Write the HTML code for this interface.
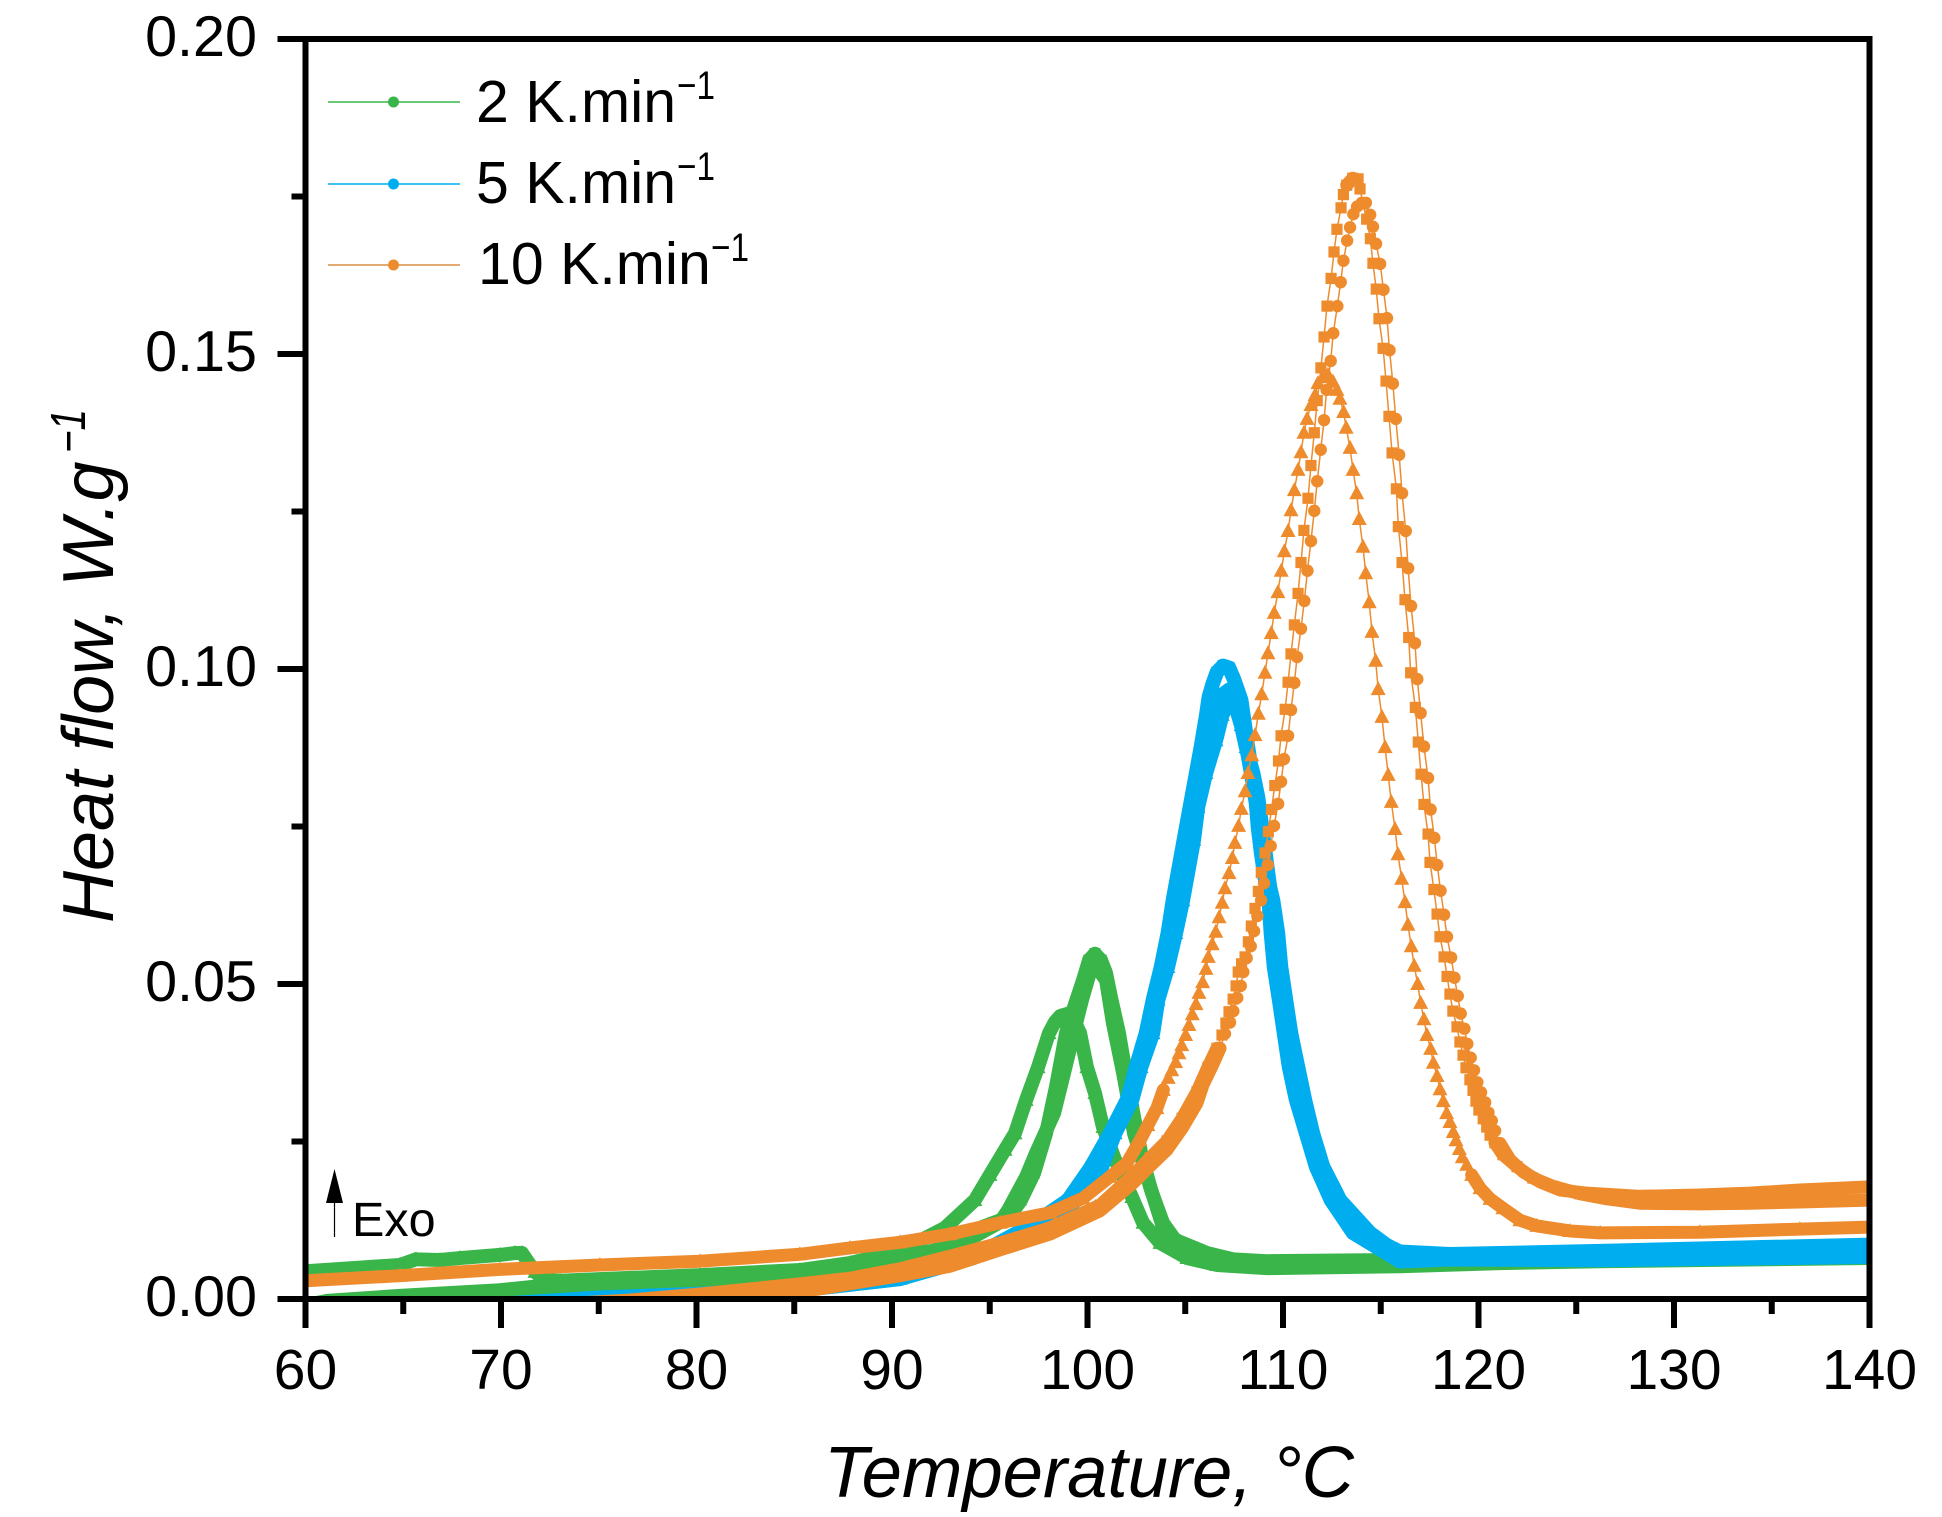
<!DOCTYPE html>
<html lang="en">
<head>
<meta charset="utf-8">
<title>Heat flow vs temperature</title>
<style>
html,body{margin:0;padding:0;background:#fff;}
svg{display:block;}
text{font-family:"Liberation Sans",Arial,sans-serif;fill:#000;}
</style>
</head>
<body>
<svg id="chart" xmlns="http://www.w3.org/2000/svg" width="1942" height="1517" viewBox="0 0 1942 1517">
<rect x="0" y="0" width="1942" height="1517" fill="#fff"/>
<defs><clipPath id="plot-clip"><rect x="305.5" y="39" width="1564" height="1260"/></clipPath></defs>
<g id="series-layer" clip-path="url(#plot-clip)"></g>
<g id="axes-layer"></g>
<g>
<g>
<line x1="328" x2="460" y1="102" y2="102" stroke="#39B54A" stroke-width="1.5"/>
<circle cx="393.5" cy="102" r="5.5" fill="#39B54A"/>
<text x="476" y="122" font-size="59">2 K.min</text>
<text x="677" y="99" font-size="40" textLength="38" lengthAdjust="spacingAndGlyphs">−1</text>
</g>
<g>
<line x1="328" x2="460" y1="184" y2="184" stroke="#00AEEF" stroke-width="1.5"/>
<circle cx="393.5" cy="184" r="5.5" fill="#00AEEF"/>
<text x="476" y="203" font-size="59">5 K.min</text>
<text x="677" y="180" font-size="40" textLength="38" lengthAdjust="spacingAndGlyphs">−1</text>
</g>
<g>
<line x1="328" x2="460" y1="265" y2="265" stroke="#D98F45" stroke-width="1.5"/>
<circle cx="393.5" cy="265" r="5.5" fill="#EE8B2D"/>
<text x="478" y="284" font-size="59">10 K.min</text>
<text x="711" y="261" font-size="40" textLength="38" lengthAdjust="spacingAndGlyphs">−1</text>
</g>
</g>
<g>
<line x1="334.5" x2="334.5" y1="1200" y2="1237" stroke="#000" stroke-width="1.2"/>
<polygon points="334.5,1169 326,1203 343,1203" fill="#000"/>
<text x="352" y="1236" font-size="48.5">Exo</text>
</g>
<text x="824" y="1497" font-size="72.5" font-style="italic">Temperature, °C</text>
<text transform="translate(113,923) rotate(-90)" font-size="72" font-style="italic">Heat flow, W.g</text>
<text transform="translate(85,453) rotate(-90)" font-size="49" font-style="italic" textLength="44" lengthAdjust="spacingAndGlyphs">−1</text>
</svg>
<script>
// Axis tick labels
const xMajorTicks = [60, 70, 80, 90, 100, 110, 120, 130, 140];
const xMinorTicks = [65, 75, 85, 95, 105, 115, 125, 135];
const yMajorTicks = ["0.00", "0.05", "0.10", "0.15", "0.20"];
const yMinorTicks = [0.025, 0.075, 0.125, 0.175];

// 2 K/min runs
const temp2Square = [60,61.1,64.83,69.95,72.51,80.18,85.29,87.85,90.41,92.97,94.76,95.99,96.6,97.27,97.88,98.39,98.9,99.31,99.77,100.08,100.38,100.69,100.95,101.2,101.61,101.87,102.38,102.74,103.25,103.86,104.48,106.11,107.45,109.18,115.98,121.1,126.22,140];
const flow2Square = [-0.001,-0.0003,0.0005,0.0014,0.0022,0.0032,0.0038,0.0049,0.0063,0.0084,0.0116,0.013,0.0157,0.02,0.0263,0.0337,0.0422,0.0463,0.0506,0.0538,0.0548,0.0538,0.0517,0.0479,0.0422,0.0375,0.0289,0.0232,0.0173,0.0121,0.0094,0.0073,0.0063,0.006,0.0062,0.0063,0.0065,0.0068];
const temp2Circle = [60,64.83,69.95,72.51,80.18,85.29,87.85,90.41,92.97,95.53,95.94,96.86,97.37,98.29,98.8,99.21,99.46,99.72,100.13,100.43,100.95,101.3,101.82,102.38,103.15,103.86,104.73,106.11,107.45,109.18,115.98,121.1,126.22,140];
const flow2Circle = [-0.0013,0.0002,0.0011,0.0019,0.0029,0.0037,0.0046,0.0059,0.0078,0.0122,0.0141,0.0194,0.0232,0.0295,0.0359,0.0411,0.0443,0.0475,0.0519,0.0529,0.0506,0.0438,0.0359,0.0263,0.0184,0.0114,0.0083,0.007,0.0062,0.0059,0.006,0.0062,0.0063,0.0067];
const temp2Triangle = [60,64.83,65.65,66.88,67.9,69.95,70.71,71.07,71.38,71.74,72.25,73.02,80.18,85.29,87.85,90.41,92.71,94.24,95.01,95.78,96.29,96.86,97.47,98.03,98.34,98.6,98.9,99.21,99.62,99.97,100.38,100.79,101.41,102.27,102.84,103.71,105.09,106.62,109.18,115.98,121.1,126.22,140];
const flow2Triangle = [0.0044,0.0054,0.0063,0.0062,0.0065,0.007,0.0073,0.0073,0.0059,0.0043,0.003,0.0029,0.0038,0.0046,0.0057,0.0076,0.0113,0.0157,0.0197,0.0237,0.0263,0.0316,0.0368,0.0422,0.044,0.0449,0.0452,0.0449,0.0422,0.0368,0.0327,0.0273,0.0221,0.0162,0.0121,0.0089,0.0065,0.0054,0.0049,0.0052,0.0057,0.006,0.0065];

// 5 K/min runs
const temp5Square = [60,70.97,75.06,80.18,85.29,90.41,94.14,97.06,99,100.18,101.15,102.02,102.48,102.99,103.35,103.76,104.11,104.37,104.93,105.8,106.06,106.21,106.42,106.62,106.93,107.24,107.5,107.86,108.21,108.41,108.72,108.82,109.03,109.23,109.38,109.59,109.74,110,110.26,110.56,110.92,111.38,111.89,112.71,114.04,115.98,118.54,126.22,140];
const flow5Square = [-0.0025,-0.0006,0.0002,0.0008,0.0017,0.0037,0.0067,0.0116,0.0157,0.021,0.0263,0.0316,0.0368,0.0422,0.0475,0.0527,0.0581,0.0633,0.0729,0.0876,0.0924,0.0956,0.0978,0.0995,0.1005,0.1002,0.0983,0.0951,0.0876,0.0835,0.0787,0.0749,0.0708,0.0654,0.0633,0.0581,0.0527,0.0475,0.0422,0.0368,0.0316,0.0263,0.021,0.0157,0.0105,0.0075,0.0071,0.0076,0.0086];
const temp5Circle = [60,75.06,85.29,90.41,94.14,97.06,99.21,100.38,101.41,102.18,102.69,103.2,103.55,103.96,104.32,104.62,105.24,106.06,106.47,106.89,107.24,107.55,107.81,108.01,108.21,108.37,108.62,108.72,108.88,109.03,109.28,109.38,109.54,109.8,110.05,110.31,110.67,111.18,111.69,112.45,113.58,115.98,118.54,126.22,140];
const flow5Circle = [-0.003,-0.0002,0.0014,0.0032,0.0065,0.0106,0.0149,0.0205,0.0263,0.0316,0.0368,0.0422,0.0475,0.0527,0.0581,0.0633,0.0729,0.0856,0.0927,0.0959,0.0967,0.0959,0.0927,0.0895,0.0862,0.0835,0.0787,0.0749,0.0708,0.0676,0.0629,0.0581,0.0527,0.0475,0.0422,0.0368,0.0316,0.0263,0.021,0.0157,0.0105,0.006,0.0063,0.0062,0.0067];
const temp5Triangle = [60,75.06,85.29,90.41,94.14,96.9,98.59,99.87,100.74,101.41,102.28,102.74,103.35,103.61,104.11,104.52,104.88,105.44,105.65,106.06,106.57,106.89,107.19,107.55,107.86,108.11,108.47,108.72,108.88,109.08,109.33,109.49,109.74,109.9,110.15,110.41,110.77,111.12,111.53,112.05,112.92,114.45,115.98,118.54,126.22,140];
const flow5Triangle = [-0.0033,-0.0002,0.0014,0.0032,0.0067,0.0097,0.0133,0.0173,0.021,0.0263,0.0316,0.0368,0.0422,0.0475,0.0527,0.0581,0.0633,0.0729,0.0781,0.0835,0.0887,0.0927,0.0946,0.0943,0.0911,0.0876,0.0835,0.0797,0.076,0.0713,0.0654,0.0633,0.0581,0.0527,0.0475,0.0422,0.0368,0.0316,0.0263,0.021,0.0157,0.0105,0.007,0.0067,0.007,0.0076];

// 10 K/min runs
const temp10Triangle = [60,64.83,69.95,75.06,80.18,85.29,87.85,90.41,92.97,95.53,98.08,99.77,101.15,102.02,102.69,103.09,103.55,103.88,104.13,104.31,104.51,104.68,104.82,105.02,105.19,105.36,105.55,105.7,105.89,106.06,106.18,106.38,106.56,106.73,106.89,107.03,107.24,107.41,107.54,107.73,107.87,108.06,108.21,108.4,108.57,108.74,108.91,109.08,109.23,109.4,109.55,109.74,109.91,110.07,110.26,110.41,110.58,110.77,110.92,111.07,111.23,111.43,111.64,111.79,112.05,112.3,112.56,112.76,112.91,113.1,113.23,113.43,113.58,113.77,113.9,114.09,114.23,114.41,114.55,114.74,114.87,115.06,115.22,115.38,115.54,115.73,115.88,116.07,116.24,116.39,116.56,116.71,116.89,117.04,117.21,117.36,117.55,117.69,117.88,118.03,118.2,118.37,118.54,118.71,118.85,119.02,119.17,119.4,119.65,120.08,120.59,121.25,122.12,122.99,124.68,126.22,131.32,136.44,140];
const flow10Triangle = [0.0029,0.0037,0.0047,0.0054,0.006,0.0071,0.0081,0.009,0.0103,0.0121,0.0137,0.016,0.0194,0.0216,0.0252,0.0276,0.0303,0.0332,0.0351,0.0363,0.0376,0.039,0.0403,0.0419,0.0435,0.0452,0.0468,0.0486,0.0503,0.0524,0.0543,0.0563,0.0583,0.0606,0.0629,0.0652,0.0676,0.07,0.0724,0.0751,0.0778,0.0806,0.0835,0.0863,0.0895,0.0929,0.096,0.0994,0.1025,0.1057,0.1089,0.1122,0.1156,0.1187,0.1219,0.1252,0.1284,0.1316,0.1344,0.1375,0.1397,0.1419,0.1435,0.1454,0.1463,0.1467,0.1456,0.1443,0.1429,0.1408,0.1383,0.1351,0.1316,0.1279,0.1238,0.1194,0.1152,0.1106,0.1059,0.1013,0.0968,0.0924,0.0876,0.0832,0.0789,0.0746,0.0706,0.0667,0.063,0.0594,0.056,0.0529,0.05,0.047,0.0444,0.0419,0.0397,0.0375,0.0354,0.0333,0.0314,0.0295,0.0281,0.0265,0.0252,0.0238,0.0225,0.0213,0.0197,0.0176,0.0159,0.0144,0.0125,0.0116,0.0108,0.0105,0.0106,0.0111,0.0114];
const temp10Circle = [60,69.95,76.45,80.18,85.29,87.85,90.41,92.97,95.53,98.08,100.64,102.33,103.2,104.07,104.84,105.6,105.91,106.42,106.78,107.03,107.29,107.46,107.66,107.84,107.97,108.14,108.35,108.52,108.69,108.88,109.03,109.22,109.37,109.54,109.75,109.9,110.05,110.26,110.41,110.58,110.72,110.92,111.09,111.25,111.43,111.6,111.75,111.93,112.1,112.23,112.44,112.57,112.78,112.95,113.09,113.28,113.43,113.6,113.79,114.03,114.24,114.46,114.6,114.76,114.97,115.14,115.32,115.45,115.62,115.77,115.94,116.09,116.28,116.4,116.55,116.75,116.87,117.04,117.21,117.42,117.55,117.74,117.89,118.06,118.24,118.39,118.6,118.77,118.94,119.09,119.28,119.43,119.6,119.77,119.94,120.13,120.34,120.51,120.68,120.85,121.1,121.61,122.28,123.15,124.17,125.55,128.26,131.32,133.88,136.44,140];
const flow10Circle = [-0.0035,-0.0022,-0.0011,-0.0002,0.0011,0.0024,0.0037,0.0052,0.0078,0.0103,0.014,0.0184,0.0211,0.0237,0.0271,0.0311,0.034,0.0373,0.0398,0.0421,0.0439,0.0457,0.0478,0.0497,0.0519,0.0541,0.056,0.0584,0.0608,0.0633,0.066,0.0689,0.0719,0.0751,0.0786,0.0821,0.0857,0.0894,0.0935,0.0978,0.1019,0.1064,0.1108,0.1156,0.1203,0.1251,0.1298,0.1348,0.1395,0.1443,0.1489,0.1533,0.1576,0.1614,0.1648,0.168,0.1701,0.1722,0.1734,0.174,0.174,0.1721,0.1702,0.1675,0.1643,0.1602,0.1557,0.1506,0.1453,0.1397,0.134,0.1279,0.1219,0.116,0.11,0.1041,0.0984,0.093,0.0877,0.0827,0.0777,0.0732,0.0689,0.0648,0.061,0.0575,0.0542,0.051,0.0481,0.0453,0.0429,0.0405,0.0383,0.0363,0.0344,0.0328,0.0312,0.0296,0.0283,0.0267,0.0247,0.0221,0.0202,0.0186,0.0173,0.0168,0.0163,0.0165,0.0168,0.0173,0.0178];
const temp10Square = [60,69.95,76.45,80.18,85.29,87.85,90.41,92.97,95.53,98.08,100.64,102.33,103.2,104.07,104.84,105.6,106.16,106.62,106.88,107.08,107.24,107.45,107.6,107.71,107.88,108.06,108.23,108.38,108.57,108.74,108.89,109.08,109.25,109.41,109.58,109.77,109.9,110.11,110.26,110.41,110.58,110.77,110.92,111.07,111.28,111.43,111.6,111.75,111.94,112.1,112.25,112.46,112.61,112.76,112.97,113.09,113.26,113.57,113.84,113.94,114.1,114.28,114.47,114.6,114.77,114.91,115.12,115.27,115.42,115.58,115.8,115.9,116.09,116.24,116.43,116.53,116.77,116.92,117.06,117.21,117.42,117.52,117.72,117.88,118.03,118.24,118.39,118.54,118.69,118.9,119.05,119.21,119.36,119.56,119.72,119.87,120.02,120.24,120.42,120.59,120.84,121.25,121.97,122.78,123.8,125.19,126.57,128.25,131.32,133.88,136.44,140];
const flow10Square = [-0.0025,-0.0013,-0.0002,0.0008,0.0024,0.0033,0.0048,0.0068,0.0089,0.0113,0.0149,0.0197,0.0224,0.0251,0.0287,0.0329,0.0368,0.0398,0.0419,0.0438,0.0456,0.0476,0.0497,0.0519,0.0532,0.0543,0.0567,0.0592,0.062,0.0647,0.0677,0.0708,0.0742,0.0777,0.0815,0.0854,0.0894,0.0936,0.0979,0.1024,0.107,0.112,0.1169,0.122,0.1271,0.1323,0.1375,0.1426,0.1478,0.1527,0.1576,0.162,0.1662,0.1698,0.1732,0.1753,0.1768,0.1779,0.1778,0.1762,0.1738,0.1714,0.1683,0.1644,0.1603,0.1556,0.1509,0.1457,0.1401,0.1343,0.1286,0.1226,0.1169,0.111,0.105,0.0994,0.0939,0.0884,0.0833,0.0785,0.0738,0.0693,0.065,0.0611,0.0575,0.0543,0.0512,0.0484,0.0457,0.0432,0.0408,0.0387,0.0367,0.0348,0.0331,0.0314,0.03,0.0286,0.0273,0.026,0.0248,0.0229,0.021,0.0192,0.0179,0.0167,0.0159,0.0152,0.0151,0.0152,0.0154,0.0157];

const GREEN = "#39B54A";
const BLUE = "#00AEEF";
const ORANGE = "#EE8B2D";
const NS = "http://www.w3.org/2000/svg";

const plotLeft = 305.5, plotRight = 1869.5, plotTop = 39, plotBottom = 1299;
function xScale(t) { return plotLeft + (t - 60) * (plotRight - plotLeft) / 80; }
function yScale(v) { return plotBottom - v * (plotBottom - plotTop) / 0.2; }

const seriesLayer = document.getElementById("series-layer");
const axesLayer = document.getElementById("axes-layer");

function make(tag, attrs, parent) {
  const el = document.createElementNS(NS, tag);
  for (const k in attrs) el.setAttribute(k, attrs[k]);
  parent.appendChild(el);
  return el;
}

function drawMarker(kind, cx, cy, color, group) {
  let el;
  if (kind === "square") {
    el = make("rect", { x: cx - 5.6, y: cy - 5.6, width: 11.2, height: 11.2, fill: color }, group);
  } else if (kind === "circle") {
    el = make("circle", { cx: cx, cy: cy, r: 6.2, fill: color }, group);
  } else {
    el = make("polygon", { points: (cx) + "," + (cy - 8) + " " + (cx - 7.5) + "," + (cy + 6) + " " + (cx + 7.5) + "," + (cy + 6), fill: color }, group);
  }
  
  
}

// Segments wider than bandGap degrees are merged marker runs, drawn as a solid band.
function drawSeries(name, temps, flows, color, kind, bandGap, bandWidth) {
  const group = make("g", {}, seriesLayer);
  
  
  let thin = "";
  temps.forEach(function (t, i) { thin += (i ? "L" : "M") + xScale(t).toFixed(2) + " " + yScale(flows[i]).toFixed(2); });
  const line = make("path", { d: thin, fill: "none", stroke: color, "stroke-width": 1.5 }, group);
  
  
  let band = "";
  for (let i = 1; i < temps.length; i++) {
    if (temps[i] - temps[i - 1] > bandGap) {
      band += "M" + xScale(temps[i - 1]).toFixed(2) + " " + yScale(flows[i - 1]).toFixed(2) + "L" + xScale(temps[i]).toFixed(2) + " " + yScale(flows[i]).toFixed(2);
    }
  }
  const bandPath = make("path", { d: band, fill: "none", stroke: color, "stroke-width": bandWidth, "stroke-linecap": "round" }, group);
  
  
  temps.forEach(function (t, i) { drawMarker(kind, xScale(t), yScale(flows[i]), color, group); });
}

drawSeries("series-2k-triangle", temp2Triangle, flow2Triangle, GREEN, "triangle", 0, 14);
drawSeries("series-2k-circle", temp2Circle, flow2Circle, GREEN, "circle", 0, 14);
drawSeries("series-2k-square", temp2Square, flow2Square, GREEN, "square", 0, 14);
drawSeries("series-5k-triangle", temp5Triangle, flow5Triangle, BLUE, "triangle", 0, 14.5);
drawSeries("series-5k-circle", temp5Circle, flow5Circle, BLUE, "circle", 0, 14.5);
drawSeries("series-5k-square", temp5Square, flow5Square, BLUE, "square", 0, 14.5);
drawSeries("series-10k-triangle", temp10Triangle, flow10Triangle, ORANGE, "triangle", 0.28, 13);
drawSeries("series-10k-circle", temp10Circle, flow10Circle, ORANGE, "circle", 0.28, 13);
drawSeries("series-10k-square", temp10Square, flow10Square, ORANGE, "square", 0.28, 13);

// Spines
function spine(name, x1, y1, x2, y2) {
  const el = make("line", { x1: x1, y1: y1, x2: x2, y2: y2, stroke: "#000", "stroke-width": 6 }, axesLayer);
  
  
}
spine("left-axis-line", plotLeft, plotTop, plotLeft, plotBottom);
spine("right-axis-line", plotRight, plotTop - 3, plotRight, plotBottom);
spine("top-axis-line", plotLeft - 28, plotTop, plotRight + 3, plotTop);
spine("bottom-axis-line", plotLeft, plotBottom, plotRight, plotBottom);

xMajorTicks.forEach(function (t) {
  const tick = make("line", { x1: xScale(t), x2: xScale(t), y1: plotBottom, y2: plotBottom + 29, stroke: "#000", "stroke-width": 6 }, axesLayer);
  
  
  const label = make("text", { x: xScale(t), y: 1389, "font-size": 57, "text-anchor": "middle" }, axesLayer);
  label.textContent = String(t);
  
  
});
xMinorTicks.forEach(function (t) {
  const tick = make("line", { x1: xScale(t), x2: xScale(t), y1: plotBottom, y2: plotBottom + 15, stroke: "#000", "stroke-width": 6 }, axesLayer);
  
  
});
yMajorTicks.forEach(function (s) {
  const v = parseFloat(s);
  const tick = make("line", { x1: plotLeft - 28, x2: plotLeft, y1: yScale(v), y2: yScale(v), stroke: "#000", "stroke-width": 6 }, axesLayer);
  
  
  const label = make("text", { x: 257, y: yScale(v) + 17, "font-size": 57.5, "text-anchor": "end" }, axesLayer);
  label.textContent = s;
  
  
});
yMinorTicks.forEach(function (v) {
  const tick = make("line", { x1: plotLeft - 14, x2: plotLeft, y1: yScale(v), y2: yScale(v), stroke: "#000", "stroke-width": 6 }, axesLayer);
  
  
});
</script>
</body>
</html>
